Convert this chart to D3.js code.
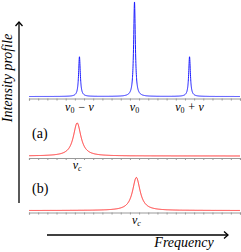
<!DOCTYPE html>
<html>
<head>
<meta charset="utf-8">
<script src="https://cdn.jsdelivr.net/npm/d3@7"></script>
<style>
  body { margin: 0; background: #fff; }
  text { font-family: 'Liberation Serif', 'Times New Roman', Times, 'DejaVu Serif', serif; }
</style>
</head>
<body>
<div id="chart"></div>
<script>
// peak parameters (x in tick units, amplitude relative to the tallest line)
const spectrumCenters = [5.5, 11.5, 17.5];
const spectrumHeights = [0.42, 1, 0.42];
const spectrumWidth = 0.11;
const spectrumLabels = [['ν', '0', ' − ν'], ['ν', '0', ''], ['ν', '0', ' + ν']];

const panelNames = ['(a)', '(b)'];
const panelCenters = [5.25, 11.7];
const panelWidth = 0.5;

const width = 241, height = 252;
const xDomain = [0, 23];
const tickValues = d3.range(0, 24);

const svg = d3.select('#chart').append('svg')
  .attr('width', width)
  .attr('height', height);

const x = d3.scaleLinear().domain(xDomain).range([29, 240]);
const samples = d3.range(xDomain[0], xDomain[1] + 0.0001, 0.01);

function lorentz(c, w) {
  return v => (w * w) / ((v - c) * (v - c) + w * w);
}

function drawAxis(y0) {
  const g = svg.append('g').attr('transform', `translate(0,${y0})`);
  g.call(d3.axisBottom(x).tickValues(tickValues).tickSize(2).tickFormat(''));
  g.select('.domain').attr('stroke', '#999').attr('stroke-width', 1.2);
  g.selectAll('.tick line').attr('stroke', '#999');
}

// ---- top spectrum
const yTop = d3.scaleLinear().domain([0, 1]).range([96.5, 2]);
const peaks = spectrumCenters.map((c, i) => ({f: lorentz(c, spectrumWidth), h: spectrumHeights[i]}));
drawAxis(98.5);
svg.append('path')
  .datum(samples)
  .attr('fill', 'none')
  .attr('stroke', '#1a1aff')
  .attr('stroke-width', 1)
  .attr('d', d3.line().x(d => x(d)).y(d => yTop(d3.sum(peaks, p => p.h * p.f(d)))));

spectrumLabels.forEach((lab, i) => {
  const t = svg.append('text')
    .attr('x', x(spectrumCenters[i]))
    .attr('y', 111)
    .attr('text-anchor', 'middle')
    .attr('font-size', 12);
  t.append('tspan').attr('font-style', 'italic').text(lab[0]);
  t.append('tspan').attr('font-size', 8).attr('dy', 2).text(lab[1]);
  if (lab[2]) t.append('tspan').attr('dy', -2).attr('font-style', 'italic').text(lab[2]);
});

// ---- panels (a) and (b)
const panelBase = [156, 210.5];
panelNames.forEach((name, i) => {
  const y = d3.scaleLinear().domain([0, 1]).range([panelBase[i], panelBase[i] - 33]);
  const f = lorentz(panelCenters[i], panelWidth);
  drawAxis(panelBase[i] + 2);
  svg.append('path')
    .datum(samples)
    .attr('fill', 'none')
    .attr('stroke', '#ff2020')
    .attr('stroke-width', 1)
    .attr('d', d3.line().x(d => x(d)).y(d => y(f(d))));
  svg.append('text')
    .attr('x', 32)
    .attr('y', panelBase[i] - 18)
    .attr('font-size', 14)
    .text(name);
  const t = svg.append('text')
    .attr('x', x(panelCenters[i]))
    .attr('y', panelBase[i] + 13)
    .attr('text-anchor', 'middle')
    .attr('font-size', 12);
  t.append('tspan').attr('font-style', 'italic').text('ν');
  t.append('tspan').attr('font-size', 8).attr('font-style', 'italic').attr('dy', 2).text('c');
});

// ---- arrows
const arrows = svg.append('g').attr('stroke', '#000').attr('fill', 'none').attr('stroke-width', 1.3);
arrows.append('line').attr('x1', 19).attr('y1', 203).attr('x2', 19).attr('y2', 22);
arrows.append('path').attr('d', 'M15.5,26 L19,22 L22.5,26');
arrows.append('line').attr('x1', 47).attr('y1', 235).attr('x2', 228).attr('y2', 235);
arrows.append('path').attr('d', 'M224,231.5 L228,235 L224,238.5');

svg.append('text')
  .attr('transform', 'translate(12,78) rotate(-90)')
  .attr('text-anchor', 'middle')
  .attr('font-style', 'italic')
  .attr('font-size', 14)
  .text('Intensity profile');

svg.append('text')
  .attr('x', 184)
  .attr('y', 247)
  .attr('text-anchor', 'middle')
  .attr('font-style', 'italic')
  .attr('font-size', 14)
  .text('Frequency');
</script>
</body>
</html>
